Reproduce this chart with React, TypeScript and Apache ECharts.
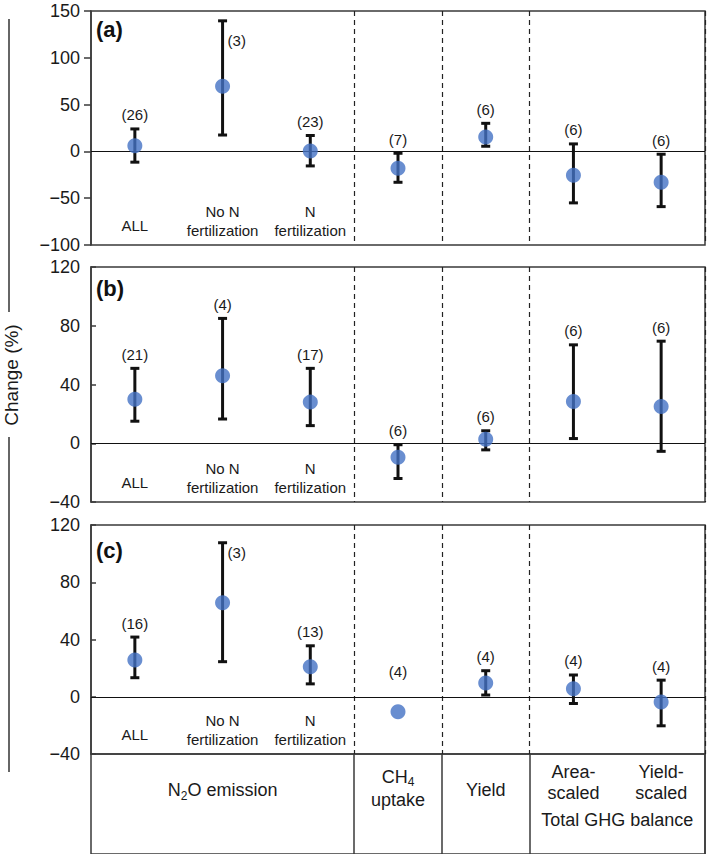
import React, { useEffect, useRef } from 'react';
import * as echarts from 'echarts';

// ---------- data ----------
const categories = ['ALL', 'No N fertilization', 'N fertilization', 'CH4 uptake', 'Yield', 'Area-scaled', 'Yield-scaled'];
const tickLabels = ['ALL', 'No N\nfertilization', 'N\nfertilization', '', '', '', ''];

// panel (a)
const meanA = [6, 69.5, 0.5, -18, 15.5, -25.5, -33];
const lowA = [-11.5, 17.5, -15.5, -33, 5.5, -55, -59];
const upA = [24, 139.5, 17, -2, 30, 8, -3];
const nA = [26, 3, 23, 7, 6, 6, 6];

// panel (b)
const meanB = [30, 46, 28, -9.5, 2.7, 28.5, 25];
const lowB = [15, 16.5, 12, -24, -4.5, 3.2, -5.5];
const upB = [51, 85, 51, -1, 8.5, 67, 69.5];
const nB = [21, 4, 17, 6, 6, 6, 6];

// panel (c)
const meanC = [25.6, 65.7, 21, -10.5, 9.6, 5.6, -3.7];
const lowC: (number | null)[] = [13.3, 24.5, 9, null, 1.2, -4.7, -20.3];
const upC: (number | null)[] = [41.7, 107.6, 35.6, null, 18.2, 15.2, 11.6];
const nC = [16, 3, 13, 4, 4, 4, 4];

const yTicksA = { min: -100, max: 150, interval: 50 };
const yTicksBC = { min: -40, max: 120, interval: 40 };

// ---------- layout / style ----------
const FONT = "'Liberation Sans', Arial, Helvetica, sans-serif";
const LEFT = 91;
const RIGHT = 4;
const W = 709;
const PLOT_W = W - LEFT - RIGHT;
const BAND = PLOT_W / 7;
const DOT = '#4472C4';
const INK = '#111';
const BORDER = '#3a3a3a';

type Panel = {
  tag: string;
  top: number;
  height: number;
  y: { min: number; max: number; interval: number };
  mean: number[];
  low: (number | null)[];
  up: (number | null)[];
  n: number[];
  side: string[];
  rightDrop: number;
  tickInside: boolean;
  tagY: number;
};

const panels: Panel[] = [
  { tag: '(a)', top: 11, height: 234, y: yTicksA, mean: meanA, low: lowA, up: upA, n: nA,
    side: ['top', 'right', 'top', 'top', 'top', 'top', 'top'], rightDrop: 20, tickInside: false, tagY: 29 },
  { tag: '(b)', top: 267, height: 235, y: yTicksBC, mean: meanB, low: lowB, up: upB, n: nB,
    side: ['top', 'top', 'top', 'top', 'top', 'top', 'top'], rightDrop: 14, tickInside: true, tagY: 288 },
  { tag: '(c)', top: 525, height: 229, y: yTicksBC, mean: meanC, low: lowC, up: upC, n: nC,
    side: ['top', 'right', 'top', 'top', 'top', 'top', 'top'], rightDrop: 10, tickInside: true, tagY: 550 },
];

const minusFmt = (v: number) => String(v).replace('-', '\u2212');

function buildOption() {
  const grid: any[] = [];
  const xAxis: any[] = [];
  const yAxis: any[] = [];
  const series: any[] = [];

  panels.forEach((p, k) => {
    grid.push({
      left: LEFT, right: RIGHT, top: p.top, height: p.height,
      show: true, borderColor: BORDER, borderWidth: 1.5, backgroundColor: 'transparent',
    });
    xAxis.push({
      type: 'category', gridIndex: k, data: categories, boundaryGap: true,
      position: 'bottom',
      axisLine: { show: false, onZero: false },
      axisTick: { show: false },
      axisLabel: {
        show: true, inside: true, interval: 0, margin: 5,
        formatter: (_v: string, idx: number) => {
          const t = tickLabels[idx];
          if (!t) return '';
          if (t.indexOf('\n') < 0) return `{s|${t}}`;
          return t.split('\n').map((l) => `{m|${l}}`).join('\n');
        },
        rich: {
          s: { fontSize: 15, fontFamily: FONT, color: '#1a1a1a', lineHeight: 29 },
          m: { fontSize: 15, fontFamily: FONT, color: '#1a1a1a', lineHeight: 19 },
        },
      },
      splitLine: {
        show: true,
        interval: (idx: number) => idx >= 3 && idx <= 5,
        lineStyle: { color: '#222', width: 1.2, type: [5, 4] },
      },
    });
    yAxis.push({
      type: 'value', gridIndex: k, min: p.y.min, max: p.y.max, interval: p.y.interval,
      axisLine: { show: true, lineStyle: { color: BORDER, width: 1.5 } },
      axisTick: { show: true, inside: p.tickInside, length: p.tickInside ? 5 : 7, lineStyle: { color: BORDER, width: 1.5 } },
      axisLabel: { fontSize: 18, fontFamily: FONT, color: '#1a1a1a', margin: 11, formatter: minusFmt },
      splitLine: { show: false },
    });

    // error bars + n labels
    series.push({
      type: 'custom', xAxisIndex: k, yAxisIndex: k, z: 2,
      data: p.mean.map((m, i) => [i, m]),
      encode: { x: 0, y: 1 },
      renderItem: (params: any, api: any) => {
        const i = params.dataIndex;
        const pm = api.coord([i, p.mean[i]]);
        const x = pm[0];
        const ch: any[] = [];
        let topY = pm[1];
        const lo = p.low[i];
        const hi = p.up[i];
        const hasBar = lo != null && hi != null;
        if (hasBar) {
          const yl = api.coord([i, lo])[1];
          const yh = api.coord([i, hi])[1];
          topY = yh;
          const st = { stroke: INK, lineWidth: 3 };
          ch.push({ type: 'line', shape: { x1: x, y1: yh, x2: x, y2: yl }, style: st });
          ch.push({ type: 'line', shape: { x1: x - 4.5, y1: yh, x2: x + 4.5, y2: yh }, style: st });
          ch.push({ type: 'line', shape: { x1: x - 4.5, y1: yl, x2: x + 4.5, y2: yl }, style: st });
        }
        const base = { text: `(${p.n[i]})`, fontSize: 15, fontFamily: FONT, fill: '#1a1a1a' };
        if (p.side[i] === 'right') {
          ch.push({ type: 'text', style: { ...base, x: x + 5, y: topY + p.rightDrop, align: 'left', verticalAlign: 'middle' } });
        } else {
          ch.push({ type: 'text', style: { ...base, x, y: topY - (hasBar ? 14 : 40), align: 'center', verticalAlign: 'middle' } });
        }
        return { type: 'group', children: ch };
      },
      markLine: {
        silent: true, symbol: ['none', 'none'], animation: false,
        label: { show: false },
        lineStyle: { color: INK, width: 1.2, type: 'solid' },
        data: [{ yAxis: 0 }],
      },
    });
    // mean dots
    series.push({
      type: 'scatter', xAxisIndex: k, yAxisIndex: k, z: 5,
      data: p.mean.map((m, i) => [i, m]),
      symbol: 'circle', symbolSize: 15,
      itemStyle: { color: DOT },
    });
  });

  // bottom table grid
  grid.push({ left: LEFT, right: RIGHT, top: 754, height: 130, show: true, borderColor: BORDER, borderWidth: 1.5 });
  xAxis.push({
    type: 'category', gridIndex: 3, data: categories, boundaryGap: true,
    axisLine: { show: false }, axisTick: { show: false }, axisLabel: { show: false },
    splitLine: { show: true, interval: (idx: number) => idx >= 3 && idx <= 5, lineStyle: { color: BORDER, width: 1.5, type: 'solid' } },
  });
  yAxis.push({ type: 'value', gridIndex: 3, min: 0, max: 1, show: false });

  const cx = (i: number) => LEFT + BAND * (i + 0.5);
  const tblText = (x: number, y: number, text: string, rich?: any) => ({
    type: 'text', x, y,
    style: {
      text, x: 0, y: 0, align: 'center', verticalAlign: 'middle',
      fontSize: 18, fontFamily: FONT, fill: '#1a1a1a', lineHeight: 21, rich,
    },
  });
  const subRich = {
    n: { fontSize: 18, fontFamily: FONT, fill: '#1a1a1a', lineHeight: 23 },
    s: { fontSize: 12, fontFamily: FONT, fill: '#1a1a1a', lineHeight: 12, verticalAlign: 'bottom' },
  };

  const graphic: any[] = [
    // Change (%) axis title with side lines
    { type: 'line', shape: { x1: 9, y1: 19, x2: 9, y2: 312 }, style: { stroke: '#333', lineWidth: 1.5 } },
    { type: 'line', shape: { x1: 9, y1: 437, x2: 9, y2: 772 }, style: { stroke: '#333', lineWidth: 1.5 } },
    {
      type: 'text', x: 11, y: 375, rotation: Math.PI / 2,
      style: { text: 'Change (%)', x: 0, y: 0, align: 'center', verticalAlign: 'middle', fontSize: 19, fontFamily: FONT, fill: '#1a1a1a' },
    },
    // panel tags
    ...panels.map((p) => ({
      type: 'text', x: 96, y: p.tagY,
      style: { text: p.tag, x: 0, y: 0, align: 'left', verticalAlign: 'middle', fontSize: 22, fontWeight: 'bold', fontFamily: FONT, fill: '#111' },
    })),
    // table labels
    tblText(LEFT + BAND * 1.5, 790, '{n|N}{s|2}{n|O emission}', subRich),
    tblText(cx(3), 788, '{n|CH}{s|4}\n{n|uptake}', subRich),
    tblText(cx(4), 790, 'Yield'),
    tblText(cx(5), 782, 'Area-\nscaled'),
    tblText(cx(6), 782, 'Yield-\nscaled'),
    tblText(LEFT + BAND * 6, 820, 'Total GHG balance'),
  ];

  return {
    animation: false,
    backgroundColor: '#ffffff',
    textStyle: { fontFamily: FONT },
    grid, xAxis, yAxis, series, graphic,
  };
}

export default function App() {
  const ref = useRef<HTMLDivElement>(null);
  useEffect(() => {
    document.body.style.margin = '0';
    if (!ref.current) return;
    const chart = echarts.init(ref.current, undefined, { renderer: 'svg' });
    chart.setOption(buildOption() as any);
    return () => chart.dispose();
  }, []);
  return <div ref={ref} style={{ width: 709, height: 854 }} />;
}
